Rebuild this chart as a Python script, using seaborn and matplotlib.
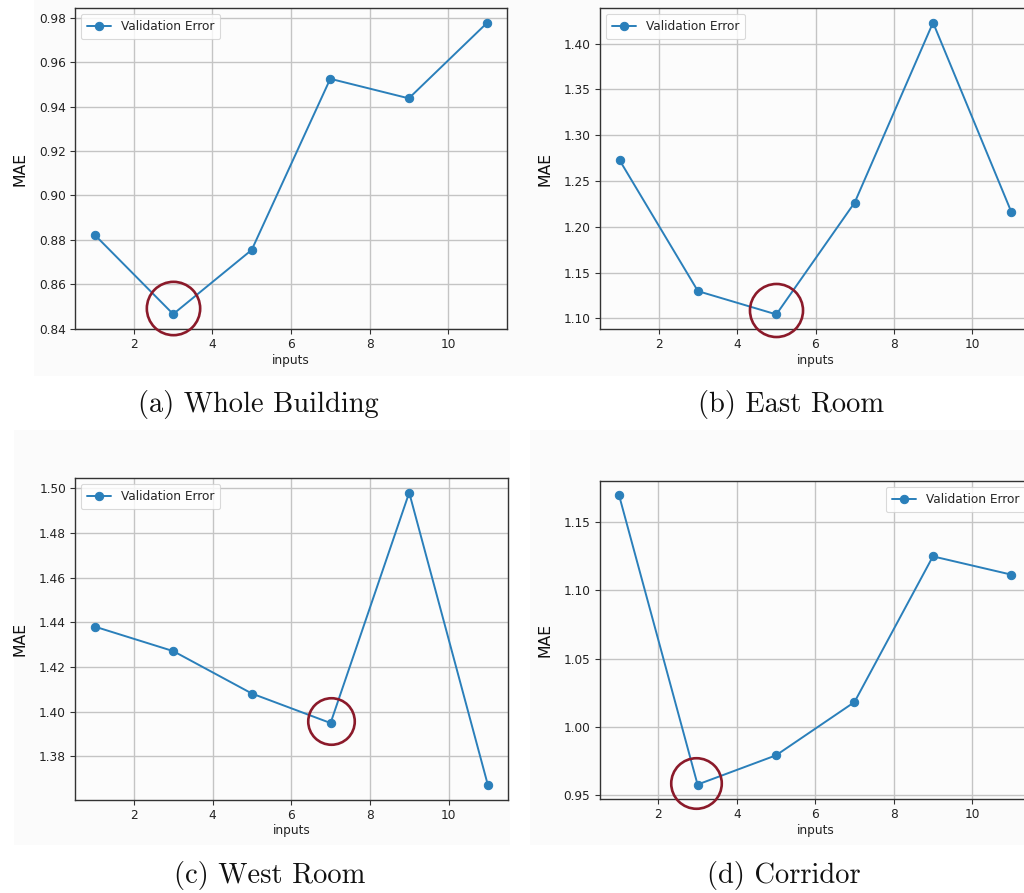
import matplotlib
matplotlib.use("Agg")
import matplotlib.pyplot as plt
import matplotlib.patches as mpatches
from matplotlib.transforms import ScaledTranslation
import seaborn as sns
import pandas as pd

# Number of inputs tried for each model
inputs = [1, 3, 5, 7, 9, 11]

# Validation MAE per zone
mae_whole = [0.8823, 0.8466, 0.8755, 0.9525, 0.9437, 0.9778]
mae_east = [1.2727, 1.1298, 1.1044, 1.2265, 1.4229, 1.2160]
mae_west = [1.4381, 1.4271, 1.4081, 1.3949, 1.4981, 1.3672]
mae_corridor = [1.1695, 0.9578, 0.9792, 1.0182, 1.1249, 1.1115]

captions = ["(a) Whole Building", "(b) East Room", "(c) West Room", "(d) Corridor"]
best_inputs = [3, 5, 7, 3]
legend_locs = ["upper left", "upper left", "upper left", "upper right"]
# lower y limit per panel (None = automatic)
y_bottoms = [0.8399, None, None, None]

sns.set_theme(style="whitegrid")
plt.rcParams["font.family"] = ["DejaVu Sans"]

W, H = 1024, 893
fig = plt.figure(figsize=(W / 100, H / 100), dpi=100)
fig.patch.set_facecolor("white")

# faint panel backgrounds around each subfigure
panel_boxes = [(34, 0, 510, 376), (118, 0, 1024, 376), (14, 430, 510, 845), (530, 430, 1024, 845)]
for (x0, y0, x1, y1) in panel_boxes:
    fig.patches.append(mpatches.Rectangle((x0 / W, 1 - y1 / H), (x1 - x0) / W, (y1 - y0) / H,
                                          transform=fig.transFigure, facecolor="#fbfbfb",
                                          edgecolor="none", zorder=-10))

# axes rectangles in pixels: left, top, right, bottom
axes_px = [(75, 8, 507, 329), (600, 8, 1031, 329), (75, 478, 507.5, 799.5), (599.5, 481, 1031, 799)]
caption_pos = [(258, 405), (791, 405), (270, 875), (784, 875)]
# highlight ring size (pt) and offset (px) per panel
ring_size = [38.4, 38.2, 33.5, 36.4]
ring_shift = [(0, 6), (0, 4.6), (0, 2), (-1.4, 2)]

series = [mae_whole, mae_east, mae_west, mae_corridor]
blue = "#2a7fba"

for i, vals in enumerate(series):
    l, t, r, b = axes_px[i]
    ax = fig.add_axes([l / W, 1 - b / H, (r - l) / W, (b - t) / H])
    ax.set_facecolor("#fcfcfc")
    df = pd.DataFrame({"inputs": inputs, "MAE": vals})
    sns.lineplot(data=df, x="inputs", y="MAE", ax=ax, marker="o", color=blue,
                 linewidth=1.4, markersize=6, markeredgecolor=blue,
                 label="Validation Error")
    # highlight the best configuration
    best_idx = inputs.index(best_inputs[i])
    dx, dy = ring_shift[i]
    ring_tr = ax.transData + ScaledTranslation(dx / 100, dy / 100, fig.dpi_scale_trans)
    ax.plot([inputs[best_idx]], [vals[best_idx]], marker="o", markersize=ring_size[i],
            markerfacecolor="none", markeredgecolor="#8b1a2a", markeredgewidth=1.9,
            linestyle="none", zorder=5, clip_on=False, transform=ring_tr)
    ax.margins(x=0.05, y=0.05)
    ax.autoscale_view()
    if y_bottoms[i] is not None:
        ax.set_ylim(bottom=y_bottoms[i])
    ax.grid(True, color="#c4c4c4", linewidth=1.0)
    for s in ax.spines.values():
        s.set_visible(True)
        s.set_color("#333333")
        s.set_linewidth(1.0)
    ax.tick_params(axis="both", which="major", direction="out", length=3.5, width=0.8,
                   color="#333333", labelsize=8.7, labelcolor="#222222", bottom=True, left=True,
                   pad=3)
    ax.set_xticks([2, 4, 6, 8, 10])
    ax.set_xlabel("inputs", fontsize=8.7, color="#222222", labelpad=2)
    ax.set_ylabel("MAE", fontsize=11.3, color="#111111", labelpad=8)
    leg = ax.legend(loc=legend_locs[i], fontsize=8.7, frameon=True, fancybox=True,
                    framealpha=0.8, edgecolor="#d0d0d0", borderpad=0.5, handlelength=2.0)
    leg.get_frame().set_linewidth(0.8)
    cx, cy = caption_pos[i]
    fig.text(cx / W, 1 - cy / H, captions[i], family="cmr10", fontsize=20.5,
             ha="center", va="center", color="#111111")

fig.savefig("out.png", dpi=100)
